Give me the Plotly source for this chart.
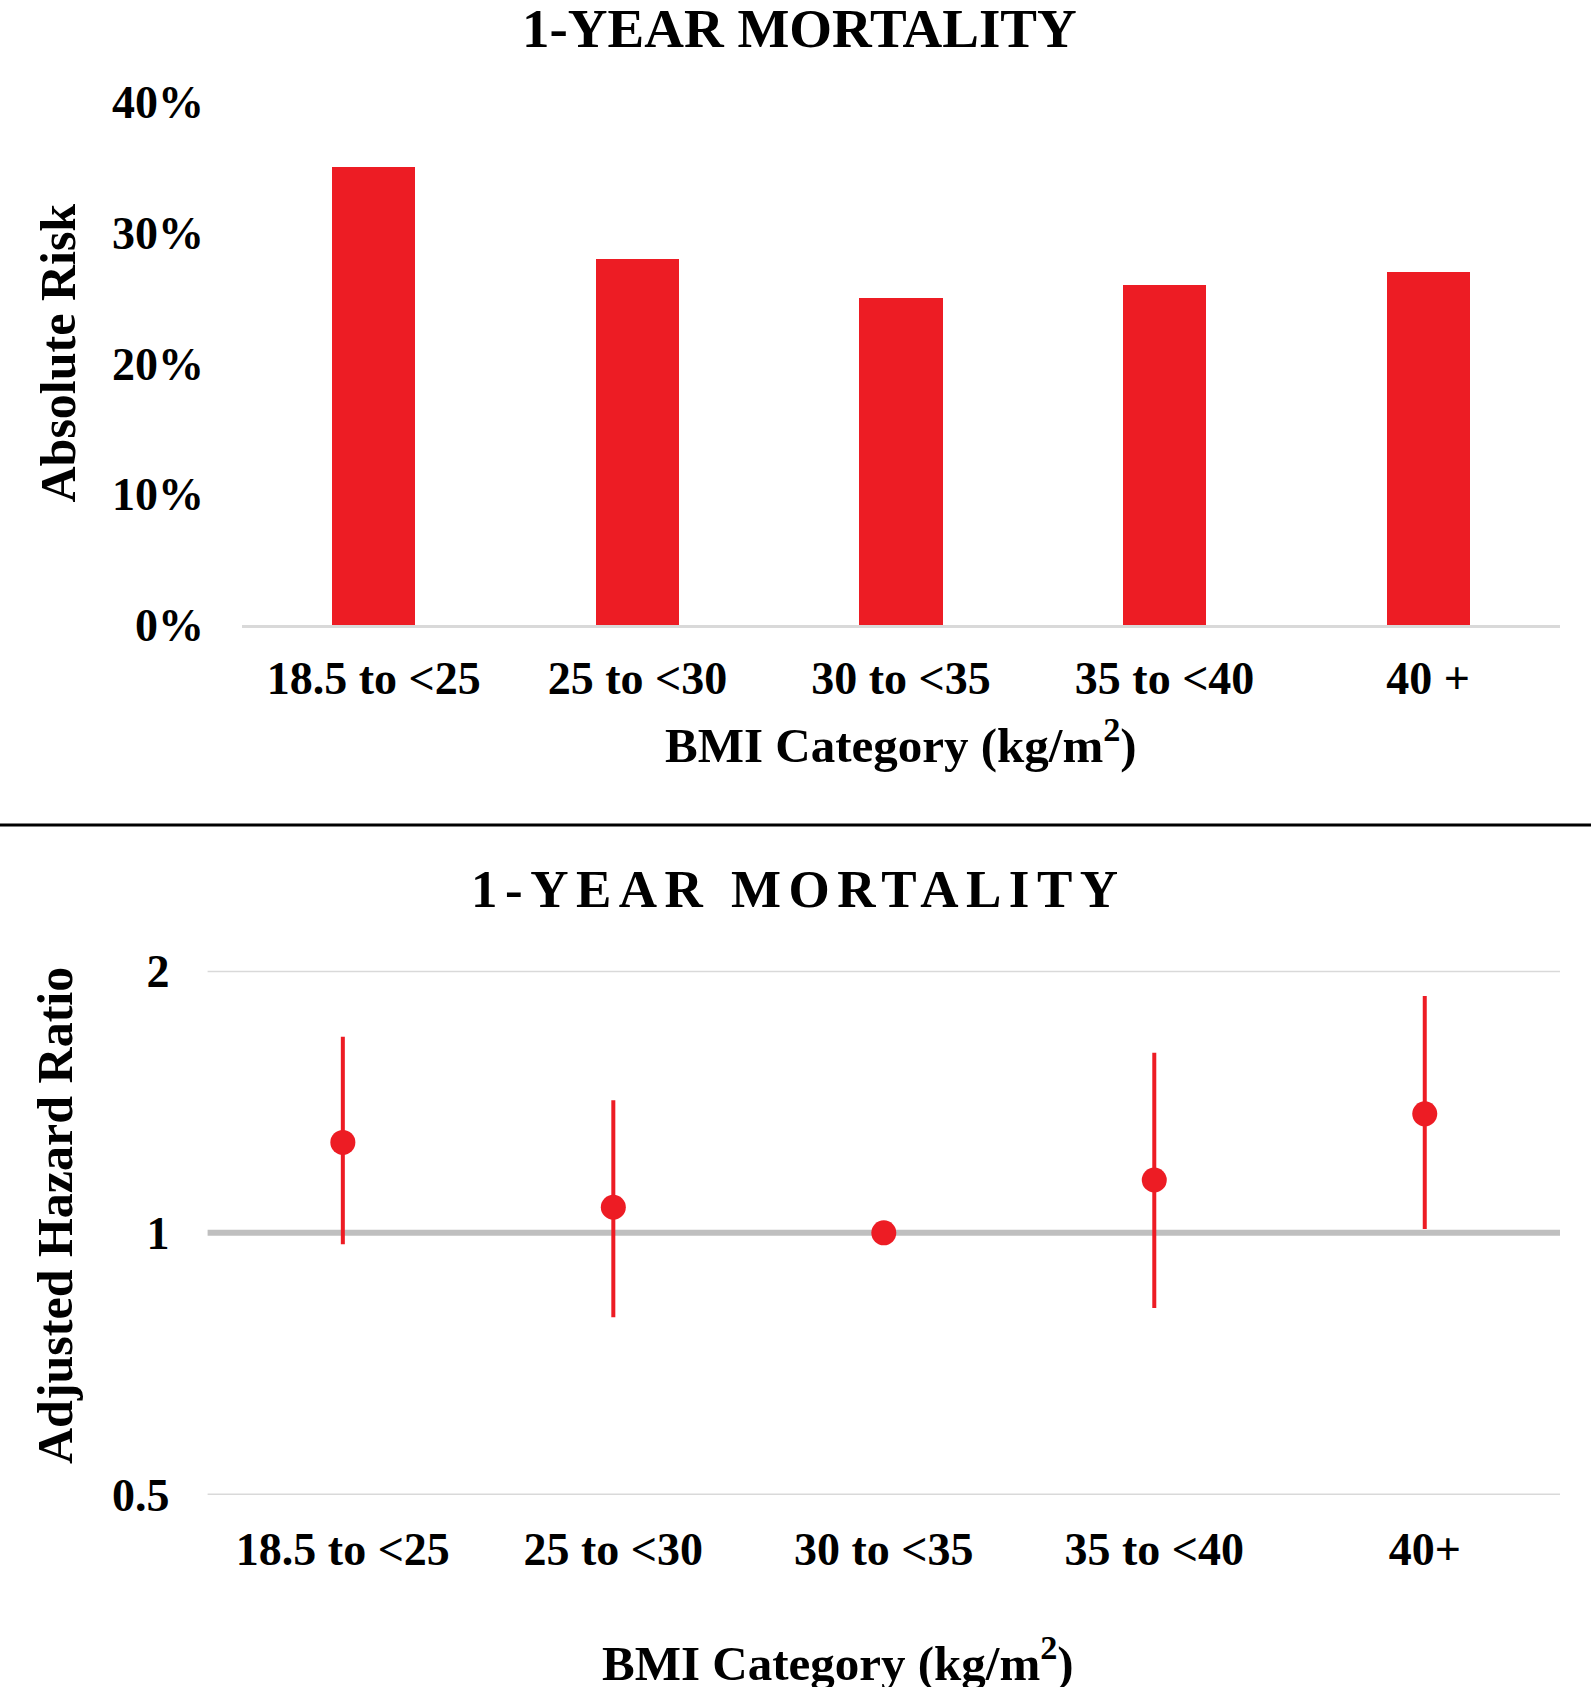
import plotly.graph_objects as go

W, H = 1591, 1687

# ---- data ----
top_categories = ["18.5 to <25", "25 to <30", "30 to <35", "35 to <40", "40 +"]
absolute_risk = [0.35, 0.28, 0.25, 0.26, 0.27]
risk_ticks = [0, 0.1, 0.2, 0.3, 0.4]

bottom_categories = ["18.5 to <25", "25 to <30", "30 to <35", "35 to <40", "40+"]
hazard_ratio = [1.27, 1.07, 1.00, 1.15, 1.37]
hr_low = [0.97, 0.80, None, 0.82, 1.01]
hr_high = [1.68, 1.42, None, 1.61, 1.87]
hr_ticks = [0.5, 1, 2]
hr_ticktext = ["0.5", "1", "2"]
hr_reference = 1

RED = "#ed1c24"
FONT = "Liberation Serif"

def px(x):
    """page pixel x -> paper fraction"""
    return x / W

def py(y):
    """page pixel y (from top) -> paper fraction"""
    return 1 - y / H

err_plus = [(h - v) if h is not None else 0 for v, h in zip(hazard_ratio, hr_high)]
err_minus = [(v - l) if l is not None else 0 for v, l in zip(hazard_ratio, hr_low)]

fig = go.Figure()

fig.add_trace(go.Bar(
    x=top_categories, y=absolute_risk, marker=dict(color=RED, line=dict(width=0)),
    width=0.315, xaxis="x", yaxis="y", showlegend=False,
))

fig.add_trace(go.Scatter(
    x=bottom_categories, y=hazard_ratio, mode="markers",
    marker=dict(color=RED, size=25),
    error_y=dict(type="data", array=err_plus, arrayminus=err_minus, symmetric=False,
                 color=RED, thickness=4, width=0),
    xaxis="x2", yaxis="y2", showlegend=False,
))

tickfont = dict(family=FONT, size=46, color="black", weight="bold")

fig.update_layout(
    width=W, height=H,
    margin=dict(l=0, r=0, t=0, b=0, autoexpand=False),
    paper_bgcolor="white", plot_bgcolor="white",
    xaxis=dict(domain=[px(242), px(1560)], anchor="y", tickfont=tickfont, automargin=False,
               range=[-0.5, 4.5],
               showgrid=False, showline=True, linecolor="#d9d9d9", linewidth=3,
               ticks="", ticklabelstandoff=11),
    yaxis=dict(domain=[py(625), py(102)], anchor="x", range=[0, 0.4], automargin=False,
               tickvals=risk_ticks, tickformat=".0%", tickfont=tickfont,
               showgrid=False, zeroline=False, showline=False, ticks="",
               ticklabelstandoff=37),
    xaxis2=dict(domain=[px(207.6), px(1560)], anchor="y2", tickfont=tickfont, automargin=False,
                range=[-0.5, 4.5],
                showgrid=False, showline=False, ticks="", ticklabelstandoff=23),
    yaxis2=dict(domain=[py(1495), py(970.7)], anchor="x2", type="log", automargin=False,
                range=[-0.30103, 0.30103], tickvals=hr_ticks, ticktext=hr_ticktext,
                tickfont=tickfont, showgrid=False,
                zeroline=False, showline=False, ticks="", ticklabelstandoff=37),
    bargap=0,
)

# horizontal guide lines of the hazard-ratio panel (reference line at 1 is heavier)
for v in hr_ticks:
    is_ref = v == hr_reference
    fig.add_shape(type="line", xref="x2 domain", yref="y2", x0=0, x1=1, y0=v, y1=v,
                  line=dict(color="#bfbfbf" if is_ref else "#d9d9d9", width=6 if is_ref else 3),
                  layer="below")

# separator between the two panels
fig.add_shape(type="line", xref="paper", yref="paper", x0=0, x1=1, y0=py(825), y1=py(825),
              line=dict(color="black", width=3))

def ann(text, x, y, size, angle=0, spacing=None):
    if spacing is not None:
        text = f'<span style="letter-spacing:{spacing}px">{text}</span>'
    fig.add_annotation(text=f"<b>{text}</b>", x=px(x), y=py(y), xref="paper", yref="paper",
                       showarrow=False, xanchor="center", yanchor="middle", textangle=angle,
                       font=dict(family=FONT, size=size, color="black"))

ann("1-YEAR MORTALITY", 799.5, 28, 55)
ann("1-YEAR MORTALITY", 798, 889, 53, spacing=7.5)
ann("Absolute Risk", 57, 353.5, 50, angle=-90)
ann("Adjusted Hazard Ratio", 55, 1216, 50, angle=-90)
ann("BMI Category (kg/m<sup>2</sup>)", 901, 741, 49)
ann("BMI Category (kg/m<sup>2</sup>)", 838, 1659, 49)

# let the figure sit flush with the page edges (no default body margin)
fig.write_html("out.html", config={"displayModeBar": False},
               post_script="document.body.style.margin='0px';")
